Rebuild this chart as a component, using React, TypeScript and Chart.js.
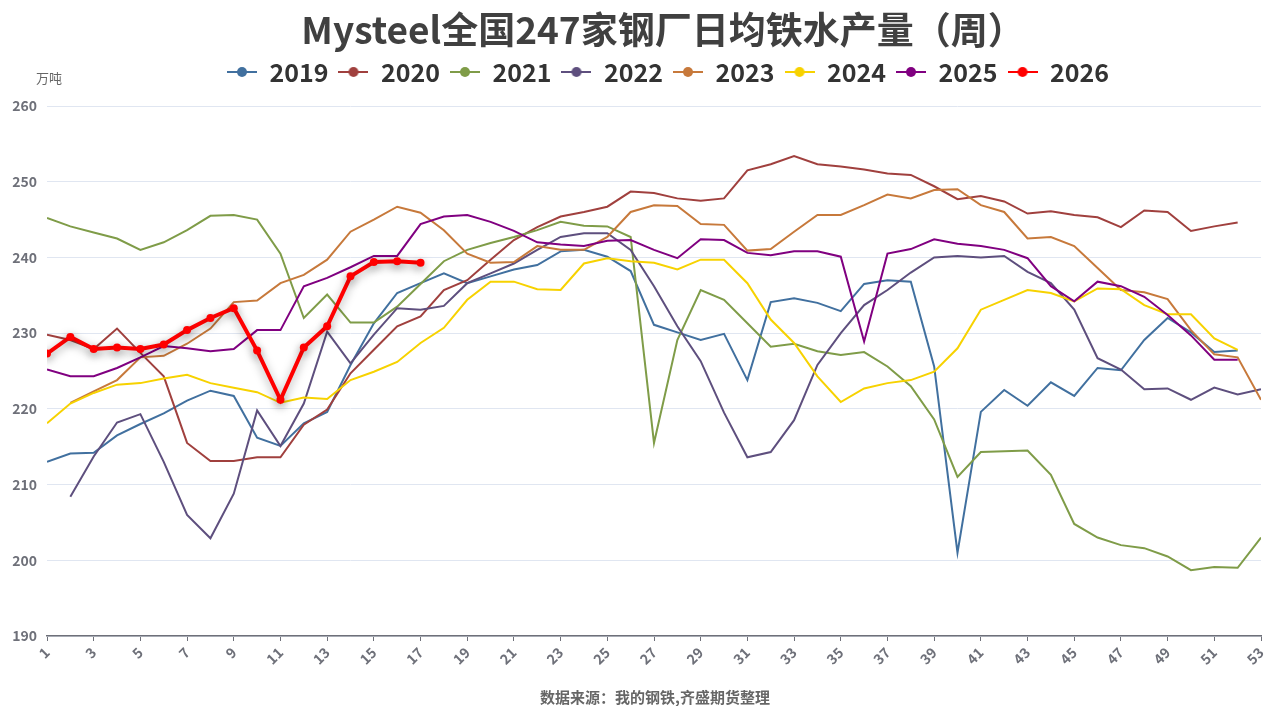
import React, { useEffect, useRef } from 'react';
import { Chart, registerables, layouts } from 'chart.js';

Chart.register(...registerables);

const TITLE = 'Mysteel全国247家钢厂日均铁水产量（周）';
const UNIT = '万吨';
const SOURCE = '数据来源：我的钢铁,齐盛期货整理';

const years = ['2019', '2020', '2021', '2022', '2023', '2024', '2025', '2026'];
const colors = ['#41709F', '#A0403E', '#7F9C48', '#5E4F7E', '#C7793B', '#F7D200', '#800080', '#FF0000'];

const weeks = [1, 2, 3, 4, 5, 6, 7, 8, 9, 10, 11, 12, 13, 14, 15, 16, 17, 18, 19, 20, 21, 22, 23, 24, 25, 26, 27,
  28, 29, 30, 31, 32, 33, 34, 35, 36, 37, 38, 39, 40, 41, 42, 43, 44, 45, 46, 47, 48, 49, 50, 51, 52, 53];

const yTicks = { min: 190, max: 260, step: 10 };
const xTicks = { min: 1, max: 53, step: 2 };

const s2019 = [213.0, 214.1, 214.2, 216.5, 218.0, 219.4, 221.1, 222.4, 221.7, 216.2, 215.1, 218.1, 219.6, 225.8, 231.3,
  235.3, 236.6, 237.9, 236.6, 237.5, 238.4, 239.0, 240.8, 241.0, 240.1, 238.2, 231.1, 230.1, 229.1, 229.9, 223.8, 234.1,
  234.6, 234.0, 232.9, 236.5, 237.0, 236.8, 225.6, 201.0, 219.6, 222.5, 220.4, 223.5, 221.7, 225.4, 225.1, 229.1, 232.0,
  230.1, 227.5, 227.7];
const s2020 = [229.8, 229.1, 227.9, 230.6, 227.4, 224.3, 215.5, 213.1, 213.1, 213.6, 213.6, 217.9, 219.9, 224.7, 227.8,
  230.9, 232.2, 235.7, 237.0, 239.7, 242.3, 244.0, 245.4, 246.0, 246.7, 248.7, 248.5, 247.8, 247.5, 247.8, 251.5, 252.3,
  253.4, 252.3, 252.0, 251.6, 251.1, 250.9, 249.4, 247.7, 248.1, 247.4, 245.8, 246.1, 245.6, 245.3, 244.0, 246.2, 246.0,
  243.5, 244.1, 244.6];
const s2021 = [245.2, 244.1, 243.3, 242.5, 241.0, 242.0, 243.6, 245.5, 245.6, 245.0, 240.5, 232.0, 235.1, 231.4, 231.4,
  233.5, 236.5, 239.5, 241.0, 241.9, 242.7, 243.6, 244.7, 244.2, 244.1, 242.7, 215.5, 229.1, 235.7, 234.4, 231.3, 228.2,
  228.6, 227.6, 227.1, 227.5, 225.6, 223.0, 218.6, 211.0, 214.3, 214.4, 214.5, 211.3, 204.8, 203.0, 202.0, 201.6, 200.5,
  198.7, 199.1, 199.0, 203.0];
const s2022 = [null, 208.4, 213.7, 218.2, 219.3, 213.0, 206.0, 202.9, 208.8, 219.8, 215.1, 220.7, 230.2, 226.0, 229.8,
  233.3, 233.1, 233.6, 236.6, 237.9, 239.2, 241.0, 242.7, 243.2, 243.2, 241.0, 236.2, 230.9, 226.3, 219.5, 213.6, 214.3,
  218.5, 225.8, 230.0, 233.7, 235.7, 238.0, 240.0, 240.2, 240.0, 240.2, 238.1, 236.6, 233.1, 226.7, 225.2, 222.6, 222.7,
  221.2, 222.8, 221.9, 222.6];
const s2023 = [null, 220.8, 222.3, 223.8, 226.8, 227.0, 228.6, 230.6, 234.1, 234.3, 236.6, 237.7, 239.7, 243.4, 245.0,
  246.7, 245.9, 243.6, 240.5, 239.3, 239.4, 241.5, 241.0, 241.0, 242.7, 246.0, 246.9, 246.8, 244.4, 244.3, 240.9, 241.1,
  243.4, 245.6, 245.6, 246.9, 248.3, 247.8, 248.9, 249.0, 246.9, 246.0, 242.5, 242.7, 241.5, 238.6, 235.7, 235.4, 234.5,
  230.4, 227.2, 226.8, 221.2];
const s2024 = [218.1, 220.7, 222.1, 223.2, 223.4, 224.0, 224.5, 223.4, 222.8, 222.2, 220.8, 221.5, 221.3, 223.8, 224.9,
  226.2, 228.7, 230.7, 234.4, 236.8, 236.8, 235.8, 235.7, 239.2, 239.9, 239.5, 239.3, 238.4, 239.7, 239.7, 236.6, 231.8,
  228.7, 224.3, 220.9, 222.7, 223.4, 223.8, 224.9, 228.0, 233.1, 234.4, 235.7, 235.3, 234.2, 235.9, 235.8, 233.7, 232.5,
  232.5, 229.3, 227.8];
const s2025 = [225.2, 224.3, 224.3, 225.4, 226.8, 228.3, 228.0, 227.6, 227.9, 230.4, 230.4, 236.2, 237.3, 238.7, 240.2,
  240.2, 244.4, 245.4, 245.6, 244.7, 243.5, 242.0, 241.7, 241.5, 242.2, 242.3, 241.0, 239.9, 242.4, 242.3, 240.6, 240.3,
  240.8, 240.8, 240.1, 228.9, 240.5, 241.1, 242.4, 241.8, 241.5, 241.0, 239.9, 236.2, 234.2, 236.8, 236.2, 234.8, 232.4,
  229.7, 226.5, 226.5];
const s2026 = [227.3, 229.5, 227.9, 228.1, 227.9, 228.5, 230.4, 232.0, 233.3, 227.7, 221.2, 228.1, 230.9, 237.5, 239.4,
  239.5, 239.3];

const seriesValues = [s2019, s2020, s2021, s2022, s2023, s2024, s2025, s2026];

const CJK = '"Noto Sans CJK SC", "Noto Sans", sans-serif';

function toPoints(vals: (number | null)[]) {
  return vals
    .map((v, i) => ({ x: weeks[i], y: v }))
    .filter((p) => p.y !== null && p.y !== undefined);
}

function legendIcon(color: string) {
  const c = document.createElement('canvas');
  c.width = 30;
  c.height = 12;
  const g = c.getContext('2d')!;
  g.strokeStyle = color;
  g.lineWidth = 2;
  g.beginPath();
  g.moveTo(0, 6);
  g.lineTo(30, 6);
  g.stroke();
  g.fillStyle = color;
  g.beginPath();
  g.arc(15, 6, 5, 0, Math.PI * 2);
  g.fill();
  return c;
}

// empty layout box that keeps a gap between the legend and the plot
const spacerPlugin = {
  id: 'legendSpacer',
  beforeInit(chart: any) {
    const box: any = {
      position: 'top',
      weight: 500,
      fullSize: true,
      options: {},
      width: 0,
      height: 0,
      left: 0,
      top: 0,
      right: 0,
      bottom: 0,
      isHorizontal() {
        return true;
      },
      update(maxWidth: number) {
        this.width = maxWidth;
        this.height = 11.5;
      },
      draw() {},
    };
    layouts.addBox(chart, box);
  },
};

// horizontal centring offsets of title / legend / footer
const shiftPlugin = {
  id: 'centerShift',
  afterLayout(chart: any) {
    const shift = (b: any, dx: number) => {
      if (!b) return;
      b.left += dx;
      b.right += dx;
    };
    shift(chart.titleBlock, 27);
    shift(chart.legend, 32);
    const footer = chart.boxes.find((b: any) => b.options && b.options.text === SOURCE && b.position === 'bottom');
    shift(footer, 19);
  },
};

const unitPlugin = {
  id: 'unitLabel',
  afterDraw(chart: any) {
    const ctx = chart.ctx;
    ctx.save();
    ctx.font = `13px ${CJK}`;
    ctx.fillStyle = '#666666';
    ctx.textAlign = 'center';
    ctx.textBaseline = 'middle';
    ctx.fillText(UNIT, 49, 78);
    ctx.restore();
  },
};

const shadowPlugin = {
  id: 'redShadow',
  beforeDatasetDraw(chart: any, args: any) {
    if (args.index === 7) {
      const ctx = chart.ctx;
      ctx.save();
      ctx.shadowColor = 'rgba(0,0,0,0.35)';
      ctx.shadowBlur = 10;
      ctx.shadowOffsetY = 3;
    }
  },
  afterDatasetDraw(chart: any, args: any) {
    if (args.index === 7) {
      chart.ctx.restore();
    }
  },
};

export default function App() {
  const ref = useRef<HTMLCanvasElement | null>(null);

  useEffect(() => {
    if (!ref.current) return;
    const icons = colors.map(legendIcon);
    const datasets = years.map((y, i) => {
      const isLast = i === years.length - 1;
      return {
        label: y,
        data: toPoints(seriesValues[i]),
        borderColor: colors[i],
        backgroundColor: colors[i],
        borderWidth: isLast ? 4 : 2,
        pointRadius: isLast ? 4 : 0,
        pointHoverRadius: isLast ? 4 : 0,
        pointBackgroundColor: colors[i],
        pointBorderWidth: 0,
        tension: 0,
        order: years.length - 1 - i,
      };
    });

    const chart = new Chart(ref.current, {
      type: 'line',
      data: { datasets } as any,
      plugins: [spacerPlugin, shiftPlugin, unitPlugin, shadowPlugin],
      options: {
        responsive: false,
        animation: false,
        layout: { padding: { left: 10, right: 3, top: 0, bottom: 0 } },
        plugins: {
          title: {
            display: true,
            text: TITLE,
            color: '#404040',
            font: { family: CJK, size: 37, weight: 'bold', lineHeight: 1 },
            padding: { top: 11.5, bottom: 1 },
          },
          legend: {
            display: true,
            labels: {
              color: '#333333',
              font: { family: CJK, size: 25, weight: 'bold' },
              usePointStyle: true,
              pointStyleWidth: 30,
              padding: 10,
              sort: (a: any, b: any) => a.datasetIndex - b.datasetIndex,
              generateLabels: (chart: any) => {
                const items = Chart.defaults.plugins.legend.labels.generateLabels(chart);
                return items.map((it: any) => ({ ...it, pointStyle: icons[it.datasetIndex] }));
              },
            },
          },
          subtitle: {
            display: true,
            position: 'bottom',
            text: SOURCE,
            color: '#666666',
            font: { family: CJK, size: 15, weight: 'bold', lineHeight: 1.2 },
            padding: { top: 12, bottom: 0 },
          },
          tooltip: { enabled: false },
        },
        scales: {
          x: {
            type: 'linear',
            min: xTicks.min,
            max: xTicks.max,
            afterFit: (s: any) => {
              s.height = 40;
              s.paddingLeft = 0;
              s.paddingRight = 0;
            },
            grid: {
              display: true,
              drawOnChartArea: false,
              drawTicks: true,
              tickLength: 5,
              tickColor: '#6E7079',
            },
            border: { display: true, color: '#6E7079', width: 1.5 },
            ticks: {
              stepSize: xTicks.step,
              autoSkip: false,
              maxRotation: 45,
              minRotation: 45,
              color: '#6E7079',
              padding: 3,
              font: { family: CJK, size: 14, weight: 'bold' },
            },
          },
          y: {
            min: yTicks.min,
            max: yTicks.max,
            afterFit: (s: any) => {
              s.width = 37;
              s.paddingTop = 0;
              s.paddingBottom = 0;
            },
            grid: { color: '#E0E6F1', drawTicks: false, lineWidth: 1 },
            border: { display: false },
            ticks: {
              stepSize: yTicks.step,
              color: '#6E7079',
              padding: 10,
              font: { family: CJK, size: 14, weight: 'bold' },
            },
          },
        },
      } as any,
    });
    return () => chart.destroy();
  }, []);

  return (
    <div style={{ position: 'fixed', left: 0, top: 0, width: 1265, height: 706, background: '#ffffff' }}>
      <canvas ref={ref} width={1265} height={706} style={{ width: 1265, height: 706, display: 'block' }} />
    </div>
  );
}
